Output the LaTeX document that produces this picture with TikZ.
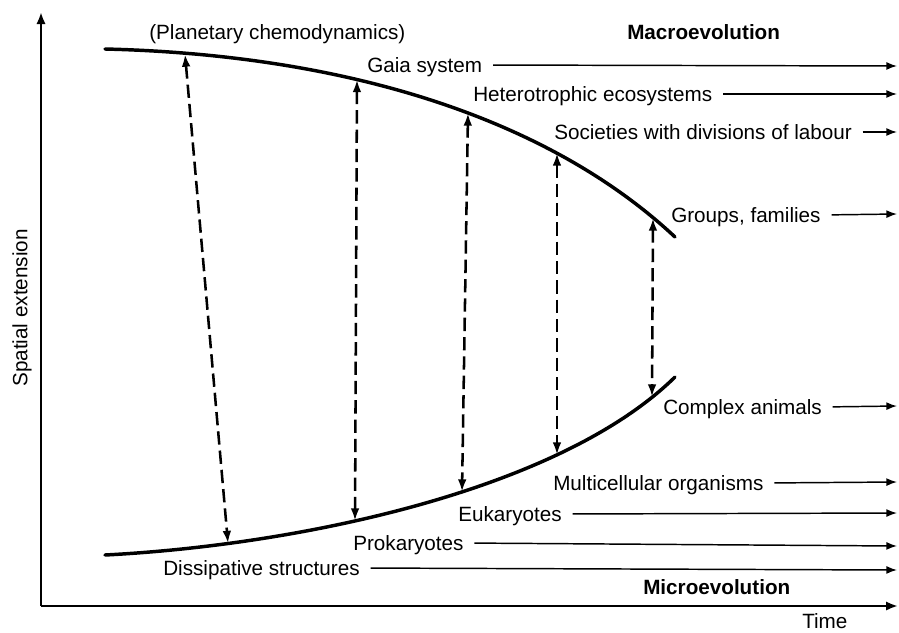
\documentclass[tikz,border=0pt]{standalone}
\usepackage{fontspec}
\setmainfont{Liberation Sans}
\usetikzlibrary{arrows.meta}
\newcommand\lblfont{\fontsize{15.5}{18}\selectfont}
\begin{document}
\begin{tikzpicture}[x=0.75pt,y=-0.75pt,
  lab/.style={font=\lblfont, inner sep=0pt, text height=11.1pt, text depth=0pt, anchor=west},
  boldlab/.style={lab, font=\lblfont\bfseries},
  axis/.style={line width=1.9pt, -{Latex[length=9pt,width=7pt]}},
  branch/.style={line width=2.6pt, line cap=round},
  link/.style={line width=1.9pt, dash pattern=on 10pt off 4.5pt,
               {Latex[length=9.5pt,width=6.5pt]}-{Latex[length=9.5pt,width=6.5pt]}},
  trend/.style={line width=1.1pt, shorten <=8pt, -{Latex[length=8pt,width=6pt]}}]
\useasboundingbox (0,0) rectangle (899,632);

% axes
\coordinate (o) at (41,606);
\coordinate (ytip) at (41,12);
\coordinate (xtip) at (898,606);
\draw[axis] (o) -- (ytip);
\draw[axis] (o) -- (xtip);
\node[lab, anchor=center, rotate=90] (yl) at (20,308) {Spatial extension};
\node[lab] (tl) at (802,621.5) {Time};

% the two branches
\draw[branch] (105,49) .. controls (350,55) and (550,120) .. (675,237);
\draw[branch] (105,555) .. controls (300,545) and (560,490) .. (675,377);

% points on the branches joined by dashed links
\coordinate (u1) at (185,54);    \coordinate (l1) at (228,543.5);
\coordinate (u2) at (357,79.5);  \coordinate (l2) at (355,521);
\coordinate (u3) at (468,113);   \coordinate (l3) at (462,492);
\coordinate (u4) at (557,153);   \coordinate (l4) at (557,455);
\coordinate (u5) at (653,218);   \coordinate (l5) at (652,397);
\foreach \i in {1,...,5} \draw[link] (u\i) -- (l\i);

% labels
\node[lab] (planet) at (149,32) {(Planetary chemodynamics)};
\node[boldlab] (macro) at (627,32) {Macroevolution};
\node[lab] (gaia) at (367,65) {Gaia system};
\node[lab] (het) at (473,94) {Heterotrophic ecosystems};
\node[lab] (soc) at (554,132) {Societies with divisions of labour};
\node[lab] (grp) at (671,215) {Groups, families};
\node[lab] (cpx) at (663,407) {Complex animals};
\node[lab] (mul) at (553,483) {Multicellular organisms};
\node[lab] (euk) at (458,514) {Eukaryotes};
\node[lab] (pro) at (353,543) {Prokaryotes};
\node[lab] (dis) at (163,568) {Dissipative structures};
\node[boldlab] (micro) at (643,587) {Microevolution};

% arrows running on in time
\coordinate (gaiaE) at (897,66);
\coordinate (hetE) at (897,94);
\coordinate (socE) at (897,132);
\coordinate (grpE) at (897,214);
\coordinate (cpxE) at (897,406);
\coordinate (mulE) at (897,482);
\coordinate (eukE) at (897,513);
\coordinate (proE) at (897,546);
\coordinate (disE) at (897,570);
\foreach \n in {gaia,het,soc,grp,cpx,mul,euk,pro,dis}
  \draw[trend] (\n.east) -- (\n E);
\end{tikzpicture}
\end{document}
